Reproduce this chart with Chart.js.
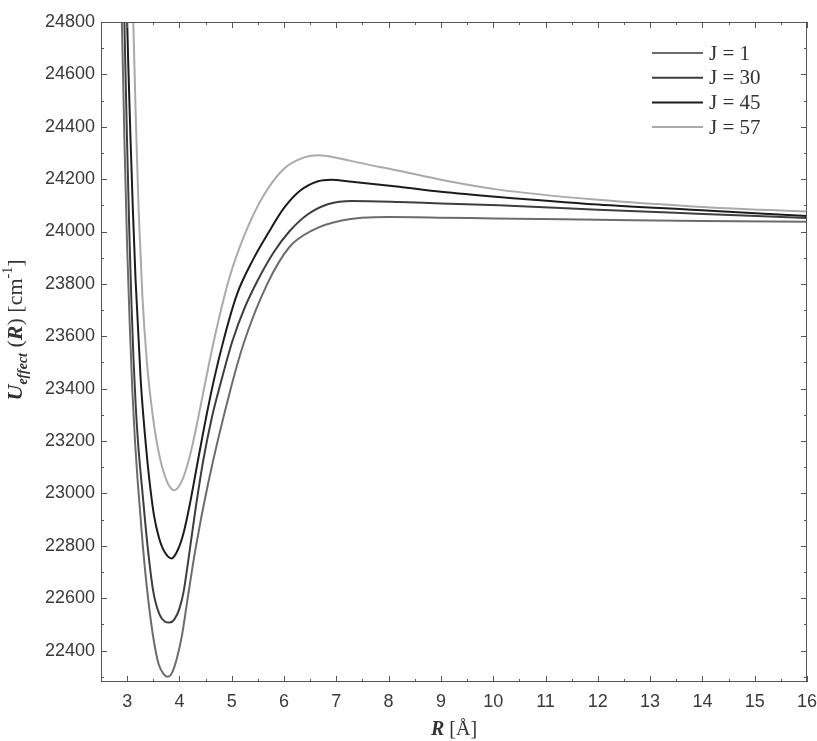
<!DOCTYPE html>
<html><head><meta charset="utf-8">
<script src="https://cdn.jsdelivr.net/npm/chart.js@4.4.0/dist/chart.umd.min.js"></script>
<style>html,body{margin:0;padding:0;background:#fff;}#wrap{width:817px;height:741px;}</style>
</head><body><div id="wrap"><canvas id="c" width="817" height="741"></canvas></div>
<script>
// ---- data ----
const seriesLabels = ['J = 1', 'J = 30', 'J = 45', 'J = 57'];

const rJ1 = [2.86, 2.90, 2.95, 3.00, 3.05, 3.10, 3.15, 3.20, 3.30, 3.40, 3.50, 3.60, 3.70, 3.77, 3.85, 3.95, 4.05, 4.15, 4.30, 4.55, 4.98, 5.24, 5.68, 6.10, 6.55, 7.10, 8.0, 9.0, 10.0, 12.0, 14.0, 16.0];
const uJ1 = [25000, 24790, 24330, 23940, 23640, 23390, 23200, 23050, 22800, 22600, 22450, 22350, 22310, 22300, 22312, 22370, 22460, 22590, 22780, 23040, 23400, 23580, 23800, 23940, 24005, 24042, 24055, 24053, 24050, 24045, 24040, 24037];

const rJ30 = [2.93, 2.96, 3.00, 3.04, 3.08, 3.12, 3.16, 3.21, 3.29, 3.39, 3.50, 3.62, 3.72, 3.81, 3.90, 4.00, 4.08, 4.18, 4.30, 4.45, 4.62, 4.80, 5.01, 5.25, 5.50, 5.80, 6.10, 6.45, 6.85, 7.30, 8.2, 9.0, 10.1, 12.0, 13.9, 16.0];
const uJ30 = [24960, 24680, 24330, 24010, 23740, 23520, 23350, 23190, 23010, 22800, 22625, 22537, 22511, 22507, 22518, 22560, 22625, 22760, 22930, 23120, 23290, 23430, 23580, 23710, 23815, 23920, 24000, 24065, 24105, 24117, 24113, 24107, 24100, 24083, 24068, 24052];

const rJ45 = [2.99, 3.02, 3.06, 3.11, 3.16, 3.26, 3.36, 3.42, 3.51, 3.61, 3.72, 3.85, 3.97, 4.08, 4.20, 4.33, 4.48, 4.65, 4.85, 5.10, 5.40, 5.70, 6.00, 6.30, 6.65, 6.90, 7.30, 8.2, 9.0, 10.1, 12.0, 13.9, 16.0];
const uJ45 = [24880, 24650, 24380, 24080, 23820, 23430, 23180, 23060, 22920, 22830, 22775, 22752, 22785, 22850, 22960, 23100, 23260, 23425, 23590, 23760, 23890, 23995, 24090, 24155, 24192, 24198, 24190, 24171, 24152, 24132, 24103, 24082, 24059];

const rJ57 = [3.10, 3.13, 3.17, 3.22, 3.29, 3.37, 3.45, 3.53, 3.61, 3.70, 3.80, 3.90, 4.00, 4.10, 4.22, 4.35, 4.50, 4.70, 4.95, 5.25, 5.60, 6.00, 6.40, 6.65, 7.00, 7.43, 8.2, 9.1, 10.1, 12.0, 13.9, 16.0];
const uJ57 = [24960, 24700, 24400, 24080, 23760, 23520, 23360, 23240, 23150, 23080, 23030, 23012, 23030, 23075, 23160, 23280, 23430, 23620, 23820, 23990, 24135, 24240, 24284, 24291, 24282, 24263, 24232, 24194, 24160, 24121, 24095, 24076];

const xTicks = [3, 4, 5, 6, 7, 8, 9, 10, 11, 12, 13, 14, 15, 16];
const xMinorTicks = [3.5, 4.5, 5.5, 6.5, 7.5, 8.5, 9.5, 10.5, 11.5, 12.5, 13.5, 14.5, 15.5];
const yTicks = [22400, 22600, 22800, 23000, 23200, 23400, 23600, 23800, 24000, 24200, 24400, 24600, 24800];
const yMinorTicks = [22300, 22500, 22700, 22900, 23100, 23300, 23500, 23700, 23900, 24100, 24300, 24500, 24700];

// ---- styles ----
const lineColors = ['#6c6c6c', '#3e3e3e', '#1c1c1c', '#aaaaaa'];
const SANS = '"Liberation Sans", Arial, sans-serif';
const SERIF = '"Liberation Serif", "Times New Roman", serif';

const pairs = (r, u) => r.map((x, i) => ({x: x, y: u[i]}));
const seriesData = [pairs(rJ1, uJ1), pairs(rJ30, uJ30), pairs(rJ45, uJ45), pairs(rJ57, uJ57)];

const datasets = seriesData.map((d, i) => ({
  label: seriesLabels[i],
  data: d,
  borderColor: lineColors[i],
  backgroundColor: lineColors[i],
  borderWidth: 2,
  pointRadius: 0,
  cubicInterpolationMode: 'monotone',
  fill: false
}));

const decor = {
  id: 'decor',
  afterDatasetsDraw(chart) {
    const ctx = chart.ctx, a = chart.chartArea;
    const xs = chart.scales.x, ys = chart.scales.y;
    ctx.save();
    ctx.strokeStyle = '#555';
    ctx.lineWidth = 1;
    ctx.strokeRect(a.left + 0.5, a.top + 0.5, a.right - a.left - 1, a.bottom - a.top - 1);
    ctx.beginPath();
    const tick = (vals, len) => {
      vals.forEach(v => {
        const px = Math.round(xs.getPixelForValue(v)) + 0.5;
        ctx.moveTo(px, a.bottom); ctx.lineTo(px, a.bottom - len);
        ctx.moveTo(px, a.top); ctx.lineTo(px, a.top + len);
      });
    };
    const ytick = (vals, len) => {
      vals.forEach(v => {
        const py = Math.round(ys.getPixelForValue(v)) + 0.5;
        ctx.moveTo(a.left, py); ctx.lineTo(a.left + len, py);
        ctx.moveTo(a.right, py); ctx.lineTo(a.right - len, py);
      });
    };
    tick(xTicks, 6); tick(xMinorTicks, 3);
    ytick(yTicks, 6); ytick(yMinorTicks, 3);
    ctx.stroke();

    // legend
    const lx0 = a.right - 155, lx1 = a.right - 104, tx = a.right - 98;
    ctx.font = '21px ' + SERIF;
    ctx.textBaseline = 'middle';
    ctx.textAlign = 'left';
    chart.data.datasets.forEach((ds, i) => {
      const y = a.top + 31 + i * 24.7;
      ctx.strokeStyle = ds.borderColor;
      ctx.lineWidth = 2;
      ctx.beginPath(); ctx.moveTo(lx0, y); ctx.lineTo(lx1, y); ctx.stroke();
      ctx.fillStyle = '#333';
      ctx.fillText(ds.label, tx, y + 1);
    });

    // x title
    ctx.fillStyle = '#333';
    ctx.textBaseline = 'alphabetic';
    const xparts = [{t: 'R', f: 'italic bold 20px ' + SERIF}, {t: ' [Å]', f: '20px ' + SERIF}];
    let w = 0;
    xparts.forEach(p => { ctx.font = p.f; p.w = ctx.measureText(p.t).width; w += p.w; });
    let cx = (a.left + a.right) / 2 - w / 2;
    xparts.forEach(p => { ctx.font = p.f; ctx.fillText(p.t, cx, 735); cx += p.w; });

    // y title (rotated)
    const yparts = [
      {t: 'U', f: 'italic bold 22px ' + SERIF, dy: 0},
      {t: 'effect', f: 'italic bold 14px ' + SERIF, dy: 5},
      {t: ' (', f: '22px ' + SERIF, dy: 0},
      {t: 'R', f: 'italic bold 22px ' + SERIF, dy: 0},
      {t: ') [cm', f: '22px ' + SERIF, dy: 0},
      {t: '-1', f: '14px ' + SERIF, dy: -10},
      {t: ']', f: '22px ' + SERIF, dy: 0}
    ];
    w = 0;
    yparts.forEach(p => { ctx.font = p.f; p.w = ctx.measureText(p.t).width; w += p.w; });
    ctx.translate(22, 330);
    ctx.rotate(-Math.PI / 2);
    let tx2 = -w / 2;
    yparts.forEach(p => { ctx.font = p.f; ctx.fillText(p.t, tx2, p.dy); tx2 += p.w; });
    ctx.restore();
  }
};

new Chart(document.getElementById('c'), {
  type: 'line',
  data: {datasets: datasets},
  options: {
    responsive: false,
    animation: false,
    devicePixelRatio: 1,
    layout: {padding: {top: 22, right: 0, left: 0, bottom: 0}},
    plugins: {legend: {display: false}, tooltip: {enabled: false}},
    scales: {
      x: {
        type: 'linear', min: 2.5, max: 16,
        afterBuildTicks: s => { s.ticks = xTicks.map(v => ({value: v})); },
        afterFit: s => { s.height = 59; s.paddingRight = 10; },
        grid: {display: false, drawTicks: false},
        border: {display: false},
        ticks: {font: {family: SANS, size: 18}, color: '#3a3a3a', padding: 9, maxRotation: 0, autoSkip: false}
      },
      y: {
        type: 'linear', min: 22280, max: 24800,
        afterBuildTicks: s => { s.ticks = yTicks.map(v => ({value: v})); },
        afterFit: s => { s.width = 101; },
        grid: {display: false, drawTicks: false},
        border: {display: false},
        ticks: {font: {family: SANS, size: 18}, color: '#3a3a3a', padding: 6, autoSkip: false, callback: v => String(v)}
      }
    }
  },
  plugins: [decor]
});
</script></body></html>
